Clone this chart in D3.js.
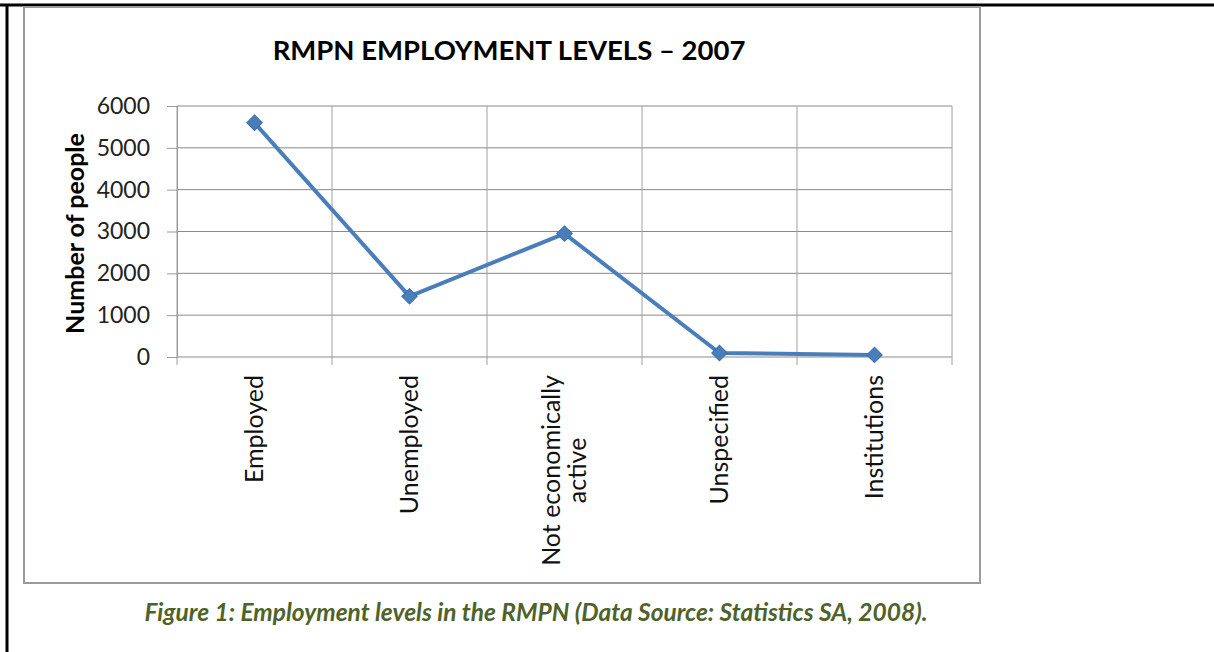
<!DOCTYPE html>
<html lang="en">
<head>
    <meta charset="UTF-8">
    <title>RMPN Employment Levels - 2007</title>
    <script src="https://d3js.org/d3.v7.min.js"></script>
    <style>
        body { margin: 0; background: #fff; }
        text { font-family: Lato, "Open Sans", sans-serif; }
        .axis text { font-size: 23px; fill: #222; }
        .xlab text { font-size: 25px; fill: #111; }
    </style>
</head>
<body>
    <div id="chart"></div>
    <script>
        // categories and values
        const categories = ["Employed", "Unemployed", "Not economically active", "Unspecified", "Institutions"];
        const categoryLines = [["Employed"], ["Unemployed"], ["Not economically", "active"], ["Unspecified"], ["Institutions"]];
        const values = [5600, 1450, 2950, 95, 50];
        const yTicks = [0, 1000, 2000, 3000, 4000, 5000, 6000];

        const W = 1214, H = 652;
        const plot = { left: 177, right: 952, top: 106, bottom: 357 };

        const svg = d3.select("#chart").append("svg")
            .attr("width", W)
            .attr("height", H);

        // page border (top and left only)
        svg.append("line").attr("x1", 0).attr("x2", W).attr("y1", 5).attr("y2", 5)
            .attr("stroke", "#000").attr("stroke-width", 3);
        svg.append("line").attr("x1", 7).attr("x2", 7).attr("y1", 5).attr("y2", H)
            .attr("stroke", "#000").attr("stroke-width", 3);

        // chart frame
        svg.append("rect")
            .attr("x", 24).attr("y", 7)
            .attr("width", 956).attr("height", 576)
            .attr("fill", "#fff")
            .attr("stroke", "#9a9a9a").attr("stroke-width", 2);

        // title
        svg.append("text")
            .attr("x", 509).attr("y", 60)
            .attr("text-anchor", "middle")
            .style("font-size", "27.5px").style("font-weight", "bold")
            .text("RMPN EMPLOYMENT LEVELS \u2013 2007");

        // scales
        const x = d3.scaleBand()
            .domain(categories)
            .range([plot.left, plot.right]);

        const y = d3.scaleLinear()
            .domain([0, 6000])
            .range([plot.bottom, plot.top]);

        // horizontal gridlines
        svg.append("g")
            .selectAll("line")
            .data(yTicks)
            .join("line")
            .attr("x1", plot.left).attr("x2", plot.right)
            .attr("y1", d => y(d)).attr("y2", d => y(d))
            .attr("stroke", "#8a8a8a").attr("stroke-width", 1);

        // vertical gridlines at category boundaries (extend below as ticks)
        const bounds = categories.map(c => x(c)).concat([plot.right]);
        svg.append("g")
            .selectAll("line")
            .data(bounds)
            .join("line")
            .attr("x1", d => d).attr("x2", d => d)
            .attr("y1", plot.top).attr("y2", plot.bottom + 8)
            .attr("stroke", "#a0a0a0").attr("stroke-width", 1);

        // y axis
        const yAxis = d3.axisLeft(y).tickValues(yTicks).tickFormat(d3.format("d"))
            .tickSize(10).tickPadding(17);
        svg.append("g")
            .attr("class", "axis")
            .attr("transform", `translate(${plot.left},0)`)
            .call(yAxis)
            .call(g => g.select(".domain").attr("stroke", "#999"))
            .call(g => g.selectAll(".tick line").attr("stroke", "#999"))
            .call(g => g.selectAll(".tick text").attr("fill", "#333"));

        // y label
        svg.append("text")
            .attr("transform", `translate(84,${(plot.top + plot.bottom) / 2 + 2}) rotate(-90)`)
            .attr("text-anchor", "middle")
            .style("font-size", "25px").style("font-weight", "bold")
            .text("Number of people");

        // x labels, rotated
        const xl = svg.append("g").attr("class", "xlab");
        categoryLines.forEach((lines, i) => {
            const cx = x(categories[i]) + x.bandwidth() / 2;
            const t = xl.append("text")
                .attr("transform", `translate(${cx},375) rotate(-90)`)
                .attr("text-anchor", "end");
            lines.forEach((ln, j) => {
                t.append("tspan")
                    .attr("x", 0)
                    .attr("dy", j === 0 ? (lines.length === 1 ? "0.35em" : "-0.2em") : "1.05em")
                    .attr("text-anchor", lines.length > 1 ? "middle" : "end")
                    .text(ln);
            });
            if (lines.length > 1) {
                // two-line label: centre each line on the longest one
                const longest = d3.max(t.selectAll("tspan").nodes(), n => n.getComputedTextLength());
                t.selectAll("tspan").attr("x", -longest / 2);
            }
        });

        // line
        const line = d3.line()
            .x((d, i) => x(categories[i]) + x.bandwidth() / 2)
            .y(d => y(d));

        svg.append("path")
            .datum(values)
            .attr("d", line)
            .attr("fill", "none")
            .attr("stroke", "#4a7ebb")
            .attr("stroke-width", 4)
            .attr("stroke-linejoin", "round");

        // diamond markers
        svg.append("g")
            .selectAll("path")
            .data(values)
            .join("path")
            .attr("d", d3.symbol().type(d3.symbolSquare).size(120))
            .attr("transform", (d, i) => `translate(${x(categories[i]) + x.bandwidth() / 2},${y(d)}) rotate(45)`)
            .attr("fill", "#4a7ebb")
            .attr("stroke", "#3d6fae").attr("stroke-width", 1);

        // caption
        svg.append("text")
            .attr("x", 536).attr("y", 621)
            .attr("text-anchor", "middle")
            .style("font-size", "24.5px").style("font-weight", "bold").style("font-style", "italic")
            .attr("fill", "#4f6228")
            .text("Figure 1: Employment levels in the RMPN (Data Source: Statistics SA, 2008).");
    </script>
</body>
</html>
